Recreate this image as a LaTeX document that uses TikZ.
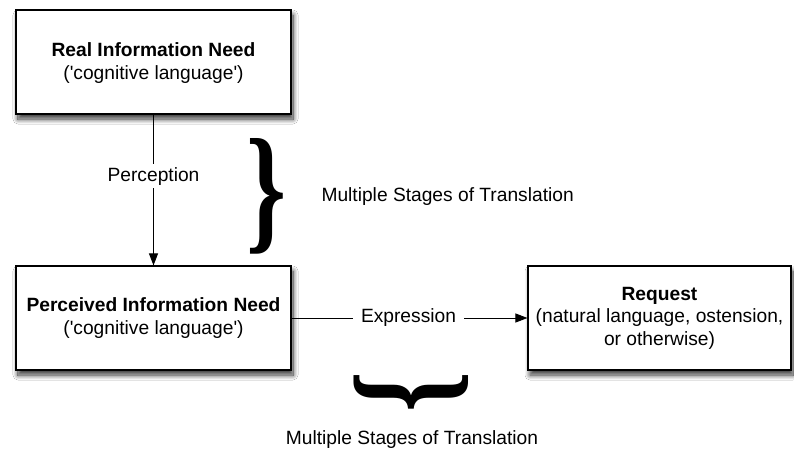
\documentclass[tikz,border=0pt]{standalone}
\usepackage{fontspec}
\setmainfont{Liberation Sans}[Ligatures=TeXOff]
\newfontfamily\bracefont{Liberation Serif}[Ligatures=TeXOff]
\usetikzlibrary{arrows.meta,shadows.blur}

\tikzset{
  stagebox/.style={draw=black, line width=1.1pt, fill=white,
    blur shadow={shadow xshift=2pt, shadow yshift=-5pt, shadow blur radius=5pt,
      shadow blur steps=12, shadow opacity=80}},
  flowlabel/.style={fill=white, inner xsep=8pt, inner ysep=3pt},
  flow/.style={line width=0.9pt, -{Triangle[length=12pt,width=9pt]}},
  plain/.style={font=\fontsize{19.2}{22.5}\selectfont, align=center},
}

\begin{document}
\begin{tikzpicture}[x=1pt,y=-1pt]
\useasboundingbox[fill=white] (0,0) rectangle (794,452);

% three stages of the information need
\node[stagebox, minimum width=275pt, minimum height=104pt] (real) at (153.5,62) {};
\node[plain] at ([yshift=-1pt]real.center) {\textbf{Real Information Need}\\('cognitive language')};

\node[stagebox, minimum width=275pt, minimum height=104pt] (perc) at (153.5,318) {};
\node[plain] at (perc.center) {\textbf{Perceived Information Need}\\('cognitive language')};

\node[stagebox, minimum width=263pt, minimum height=104pt] (req) at (659.5,318) {};
\node[plain] at (req.center) {\textbf{Request}\\(natural language, ostension,\\or otherwise)};

% transitions between stages
\draw[flow] (real.south) -- (perc.north)
  node[pos=0.41, plain, flowlabel] (perception) {Perception};
\draw[flow] (perc.east) -- (req.west)
  node[pos=0.5, plain, flowlabel, xshift=-1pt] (expression) {Expression};

% braces marking the translation stages
\node[inner sep=0pt] (vbrace) at (267,196.5)
  {\resizebox{40pt}{97pt}{\bracefont\bfseries\}}};
\node[plain, anchor=west] (vnote) at (318,197) {Multiple Stages of Translation};

\node[inner sep=0pt] (hbrace) at (411,392.5)
  {\rotatebox{-90}{\resizebox{41pt}{96pt}{\bracefont\bfseries\}}}};
\node[plain] (hnote) at (412,440) {Multiple Stages of Translation};
\end{tikzpicture}
\end{document}
